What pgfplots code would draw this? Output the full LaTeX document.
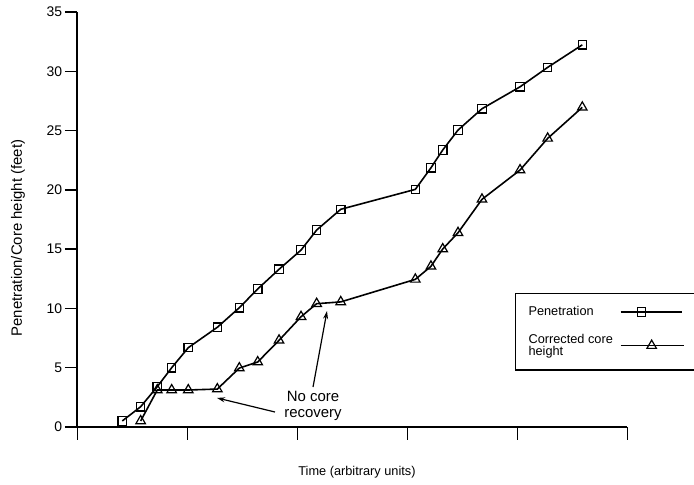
\documentclass[border=0pt]{standalone}
\usepackage{pgfplots}
\pgfplotsset{compat=1.18}
\usepackage{pgfplotstable}
\usepackage{fontspec}
\setmainfont{Liberation Sans}
\usetikzlibrary{arrows.meta}

\pgfplotsset{
  legsq/.style={legend image code/.code={\draw[mark repeat=2,mark phase=2,##1] plot coordinates {(0bp,0bp) (21bp,0bp) (61bp,0bp)};}},
  legtri/.style={legend image code/.code={\draw[mark repeat=2,mark phase=2,##1] plot coordinates {(0bp,0bp) (31bp,0bp) (63bp,0bp)};}},
}

\pgfplotstableread{
x y
0.409 0.51
0.576 1.71
0.727 3.40
0.858 5.00
1.009 6.69
1.273 8.41
1.473 10.06
1.640 11.64
1.834 13.30
2.034 14.92
2.176 16.61
2.395 18.36
3.073 20.04
3.215 21.86
3.322 23.36
3.461 25.04
3.679 26.84
4.025 28.69
4.276 30.33
4.591 32.23
}\penetration

\pgfplotstableread{
x y
0.576 0.51
0.727 3.12
0.858 3.12
1.009 3.12
1.273 3.20
1.473 4.97
1.640 5.48
1.834 7.31
2.034 9.30
2.176 10.40
2.395 10.55
3.073 12.45
3.215 13.55
3.322 15.01
3.461 16.38
3.679 19.20
4.025 21.67
4.276 24.34
4.591 26.96
}\corrected

\begin{document}
\begin{tikzpicture}
\useasboundingbox (0,0) rectangle (694bp,485bp);
\begin{axis}[
  at={(77.3bp,58bp)}, anchor=south west,
  scale only axis, width=550bp, height=415bp,
  xmin=0, xmax=5, ymin=0, ymax=35,
  axis x line*=bottom, axis y line*=left,
  axis line style={line width=1.7bp, black},
  xtick={0,1,2,3,4,5}, xticklabels={},
  ytick={0,5,...,35},
  tick align=outside, major tick length=12.5bp,
  tick style={line width=1.5bp, black},
  /pgf/number format/assume math mode=true,
  yticklabel style={font=\fontsize{14}{14}\selectfont, inner xsep=2.5bp},
  xlabel={Time (arbitrary units)},
  xlabel style={at={(axis description cs:0.5085,-0.1084)}, anchor=center, font=\fontsize{12.8}{13}\selectfont},
  ylabel={Penetration/Core height (feet)},
  ylabel style={at={(axis description cs:-0.1078,0.4554)}, anchor=center, font=\fontsize{15}{15}\selectfont},
  clip=false,
  legend plot pos=right,
  legend cell align=left,
  legend style={at={(axis description cs:0.7958,0.3229)}, anchor=north west,
    draw=black, line width=1.1bp, inner xsep=10bp, inner ysep=10bp,
    row sep=11bp, column sep=4bp,
    font=\fontsize{12.8}{12}\selectfont,
    cells={align=left},
    nodes={inner xsep=3bp, inner ysep=3bp}},
]
\addplot[black, line width=1.6bp, mark=square, mark size=4.2bp,
  mark options={solid, line width=1.2bp}, legsq]
  table[x=x,y=y] {\penetration};
\addlegendentry{Penetration}
\addplot[black, line width=1.6bp, mark=triangle, mark size=5.5bp,
  mark options={solid, line width=1.2bp}, legtri]
  table[x=x,y=y] {\corrected};
\addlegendentry{Corrected core\\height}

\node[align=center, font=\fontsize{15}{16}\selectfont] at (axis cs:2.143,1.77) {No core\\recovery};
\draw[line width=1.2bp, -{Stealth[length=8bp,width=5bp]}] (axis cs:1.797,1.265) -- (axis cs:1.270,2.45);
\draw[line width=1.2bp, -{Stealth[length=8bp,width=5bp]}] (axis cs:2.143,3.37) -- (axis cs:2.270,9.78);
\end{axis}
\end{tikzpicture}
\end{document}
